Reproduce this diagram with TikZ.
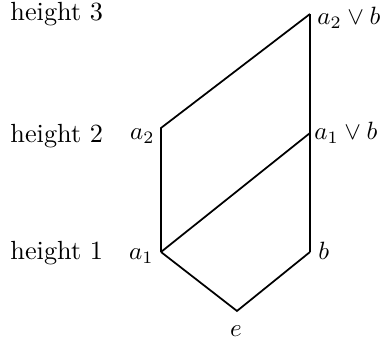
\documentclass[tikz,border=0pt]{standalone}
\begin{document}
\begin{tikzpicture}[x=0.4pt,y=-0.4pt,
  edge/.style={line width=0.7pt,line join=miter},
  lbl/.style={inner sep=0pt,font=\fontsize{10.5}{12}\selectfont},
  mlbl/.style={inner sep=0pt,font=\fontsize{10.3}{12}\selectfont}]
\useasboundingbox (0,0) rectangle (383,344);
% vertices
\coordinate (e) at (237,311);
\coordinate (a1) at (161,252);
\coordinate (b) at (310,252);
\coordinate (a2) at (161,128);
\coordinate (a1b) at (310,133);
\coordinate (a2b) at (310,14);
% edges
\draw[edge] (a1) -- (e) -- (b);
\draw[edge] (a1) -- (a2) -- (a2b);
\draw[edge] (a1) -- (a1b);
\draw[edge] (b) -- (a1b) -- (a2b);
% labels
\node[lbl,anchor=base west] (h3) at (10,21) {height\ 3};
\node[lbl,anchor=base west] (h2) at (10,143) {height\ 2};
\node[lbl,anchor=base west] (h1) at (10,260) {height\ 1};
\node[mlbl,anchor=base east] (la2) at (155,140) {$a_2$};
\node[mlbl,anchor=base east] (la1) at (154,260) {$a_1$};
\node[mlbl,anchor=base west] (lb) at (318,260) {$b$};
\node[mlbl,anchor=base] (le) at (236,337) {$e$};
\node[mlbl,anchor=base west] (la1b) at (314,140) {$a_1\vee b$};
\node[mlbl,anchor=base west] (la2b) at (317,25) {$a_2\vee b$};
\end{tikzpicture}
\end{document}
